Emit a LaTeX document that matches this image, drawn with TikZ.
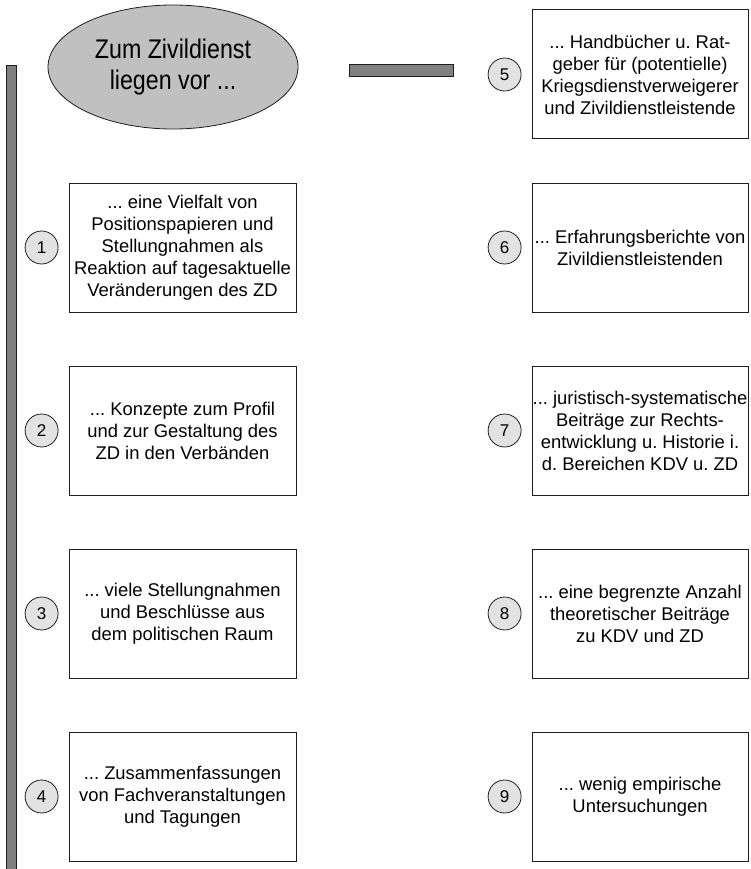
\documentclass[tikz,border=0pt]{standalone}
\usepackage{fontspec}
\setmainfont{Liberation Sans}
\newfontfamily\titelschrift[FakeStretch=0.86]{Liberation Sans}
\usepackage{tikz}
\usetikzlibrary{shapes.geometric, positioning}
\definecolor{linie}{RGB}{30,30,30}
\definecolor{grauTitel}{RGB}{192,192,192}
\definecolor{grauKreis}{RGB}{226,226,226}
\definecolor{grauBalken}{RGB}{128,128,128}
\frenchspacing

\begin{document}
\begin{tikzpicture}[
  x=1pt, y=-1pt,
  node distance=53pt and 10pt,
  kasten/.style={rectangle, draw=linie, fill=white, line width=1pt,
                 inner sep=0pt, align=center,
                 font=\fontsize{18.4}{22}\selectfont, minimum height=129pt},
  links/.style={kasten, minimum width=227pt},
  rechts/.style={kasten, minimum width=216pt},
  nummer/.style={circle, draw=linie, fill=grauKreis, line width=0.8pt,
                 minimum size=33pt, inner sep=0pt,
                 font=\fontsize{17}{17}\selectfont},
  titel/.style={ellipse, draw=linie, fill=grauTitel, line width=0.8pt,
                minimum width=250pt, minimum height=124pt, inner sep=0pt,
                align=center, font=\titelschrift\fontsize{27}{31}\selectfont},
  balken/.style={draw=linie, fill=grauBalken, line width=0.8pt}
]
\useasboundingbox (0,0) rectangle (750,869);

% Titel
\node[titel] (titel) at (173,67) {Zum Zivildienst\\liegen vor ...};

% Balken
\draw[balken] (6,65) rectangle (16,872);
\draw[balken] (349,64) rectangle (453,76);

% linke Spalte
\node[links] (b1) at (182.5,247.5) {... eine Vielfalt von\\Positionspapieren und\\Stellungnahmen als\\Reaktion auf tagesaktuelle\\Veränderungen des ZD};
\node[links, below=of b1] (b2) {... Konzepte zum Profil\\und zur Gestaltung des\\ZD in den Verbänden};
\node[links, below=of b2] (b3) {... viele Stellungnahmen\\und Beschlüsse aus\\dem politischen Raum};
\node[links, below=of b3] (b4) {... Zusammenfassungen\\von Fachveranstaltungen\\und Tagungen};

% rechte Spalte
\node[rechts] (b6) at (640,247.5) {... Erfahrungsberichte von\\Zivildienstleistenden};
\node[rechts, above=43pt of b6] (b5) {... Handbücher u. Rat-\\geber für (potentielle)\\Kriegsdienstverweigerer\\und Zivildienstleistende};
\node[rechts, below=of b6] (b7) {... juristisch-systematische\\Beiträge zur Rechts-\\entwicklung u. Historie i.\\d. Bereichen KDV u. ZD};
\node[rechts, below=of b7] (b8) {... eine begrenzte Anzahl\\theoretischer Beiträge\\zu KDV und ZD};
\node[rechts, below=of b8] (b9) {... wenig empirische\\Untersuchungen};

% Nummern
\node[nummer, left=of b1] (n1) {1};
\node[nummer, left=of b2] (n2) {2};
\node[nummer, left=of b3] (n3) {3};
\node[nummer, left=of b4] (n4) {4};
\node[nummer, left=of b5] (n5) {5};
\node[nummer, left=of b6] (n6) {6};
\node[nummer, left=of b7] (n7) {7};
\node[nummer, left=of b8] (n8) {8};
\node[nummer, left=of b9] (n9) {9};

\end{tikzpicture}
\end{document}
